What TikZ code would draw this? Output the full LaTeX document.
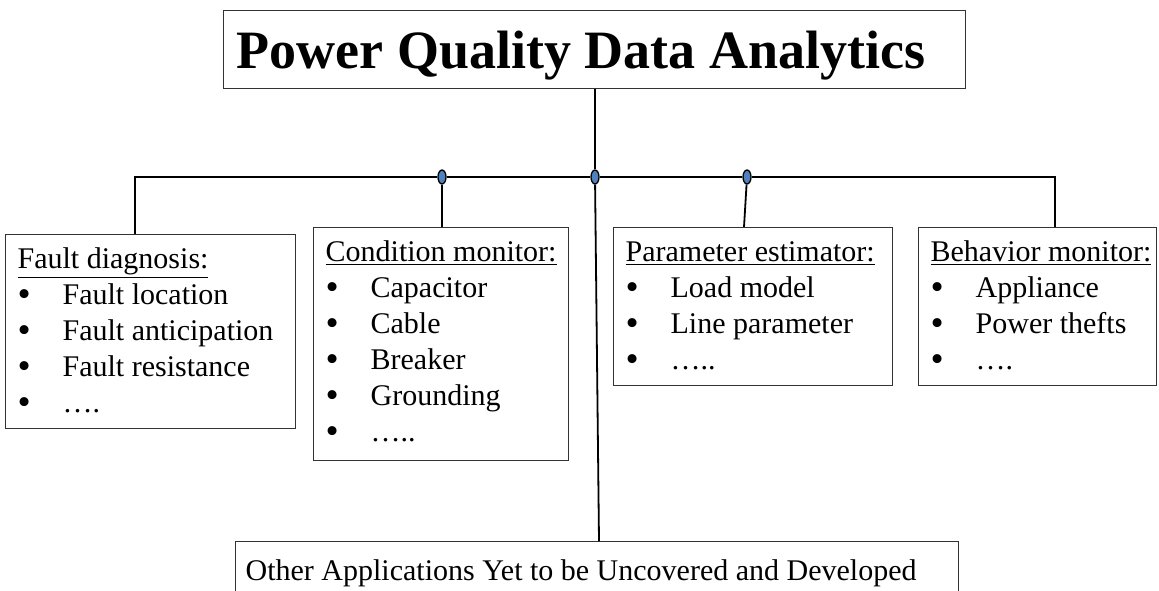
\documentclass[tikz,border=0pt]{standalone}
\usepackage{fontspec}
\setmainfont{Liberation Serif}
\usepackage{tikz}
\usetikzlibrary{shapes.geometric}
\definecolor{tapblue}{HTML}{4F81BD}
\newlength\px
\setlength\px{0.75pt}
\newcommand{\itm}[1]{\makebox[45\px][l]{\raisebox{-0.15ex}{\scalebox{1.25}{\textbullet}}}#1}
\newcommand{\panel}[3]{\parbox[t][#2\px][t]{#1\px}{\leftskip=12\px\rule{0pt}{34\px}#3}}

\begin{document}
\begin{tikzpicture}[x=\px, y=-\px,
  panel/.style={draw=black!80, line width=1.3\px, inner sep=0pt, anchor=north west,
    font=\fontsize{22.5}{27}\selectfont},
  wire/.style={line width=1.8\px, black},
  tap/.style={ellipse, draw=black, line width=1.3\px, fill=tapblue, inner sep=0pt,
    minimum width=8\px, minimum height=14\px}]

  \useasboundingbox (0,0) rectangle (1159,590);
  \clip (0,0) rectangle (1159,590);

  \node[panel, font=\fontsize{40.5}{48}\selectfont\bfseries] (title) at (223,10)
    {\parbox[t][78\px][t]{742\px}{\leftskip=13\px\rule{0pt}{58\px}Power Quality Data Analytics}};

  \node[panel] (fault) at (5,234) {\panel{290}{194}{\underline{Fault diagnosis:}\\
    \itm{Fault location}\\ \itm{Fault anticipation}\\ \itm{Fault resistance}\\ \itm{….}}};
  \node[panel] (cond) at (313,227) {\panel{255}{233}{\underline{Condition monitor:}\\
    \itm{Capacitor}\\ \itm{Cable}\\ \itm{Breaker}\\ \itm{Grounding}\\ \itm{…..}}};
  \node[panel] (param) at (613,227) {\panel{279}{158}{\underline{Parameter estimator:}\\
    \itm{Load model}\\ \itm{Line parameter}\\ \itm{…..}}};
  \node[panel] (behav) at (918,227) {\panel{238}{158}{\underline{Behavior monitor:}\\
    \itm{Appliance}\\ \itm{Power thefts}\\ \itm{….}}};

  \node[panel] (other) at (235,541)
    {\parbox[t][80\px][t]{723\px}{\leftskip=10\px\rule{0pt}{39\px}Other Applications Yet to be Uncovered and Developed}};

  % taps on the bus
  \node[tap] (cmtap) at (442,177) {};
  \node[tap] (hub) at (595,177) {};
  \node[tap] (petap) at (747,177) {};
  \coordinate (busL) at (135,177);
  \coordinate (busR) at (1055,177);

  \draw[wire] (hub) -- (hub |- title.south); % trunk
  \draw[wire] (busL |- fault.north) -- (busL) -- (cmtap); % bus left
  \draw[wire] (cmtap) -- (hub);
  \draw[wire] (hub) -- (petap);
  \draw[wire] (petap) -- (busR) -- (busR |- behav.north); % bus right
  \draw[wire] (cmtap) -- (cmtap |- cond.north);
  \draw[wire] (petap) -- ([xshift=-3\px]petap |- param.north);
  \draw[wire] (hub) -- ([xshift=4\px]hub |- other.north);
\end{tikzpicture}
\end{document}
